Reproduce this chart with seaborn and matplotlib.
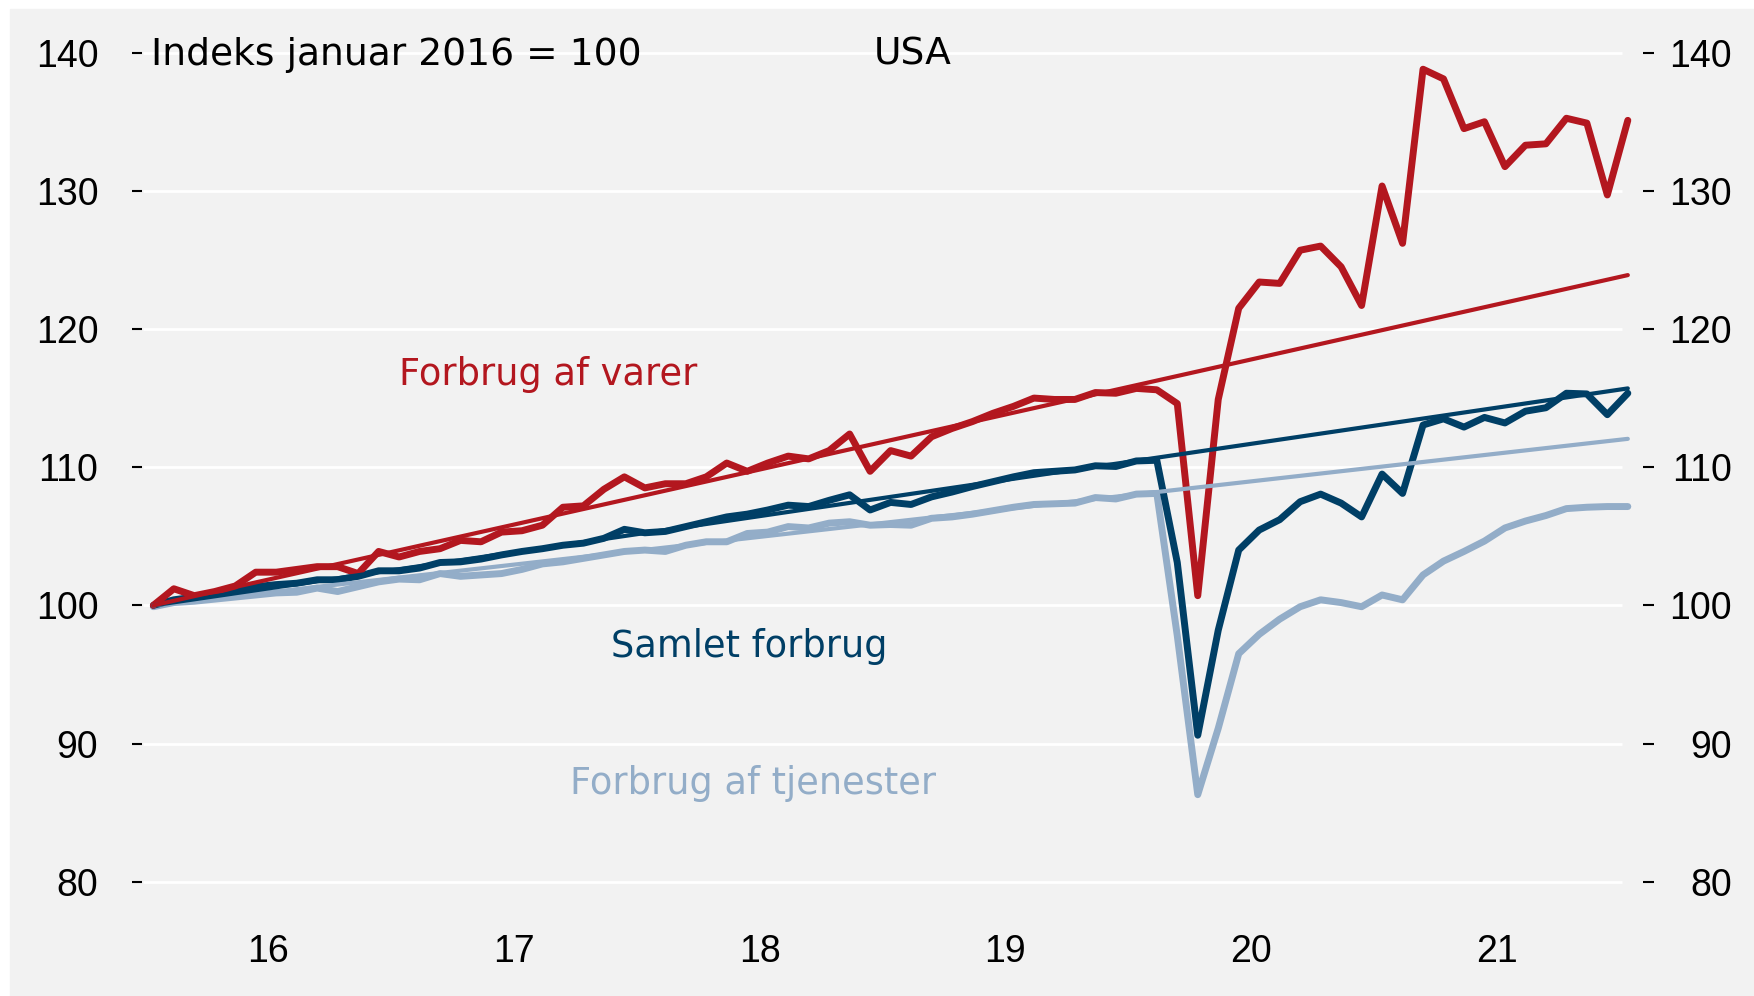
import numpy as np
import pandas as pd
import matplotlib
matplotlib.use("Agg")
import matplotlib.pyplot as plt
import seaborn as sns
from matplotlib.patches import Rectangle

# ---------------------------------------------
# DATA (index Jan 2016 = 100, monthly, USA)
# ---------------------------------------------
dates = pd.date_range("2016-01-01", periods=73, freq="MS")

goods = [
    100.0, 101.2, 100.7, 101.0, 101.4, 102.4, 102.4, 102.6, 102.8, 102.8, 102.3, 103.9,
    103.5, 103.9, 104.1, 104.7, 104.6, 105.3, 105.4, 105.8, 107.1, 107.2, 108.4, 109.3,
    108.5, 108.8, 108.8, 109.3, 110.3, 109.7, 110.3, 110.8, 110.6, 111.2, 112.4, 109.7,
    111.2, 110.8, 112.2, 112.8, 113.3, 113.9, 114.4, 115.0, 114.9, 114.9, 115.4, 115.35,
    115.7, 115.6, 114.6, 100.7, 114.9, 121.5, 123.4, 123.3, 125.7, 126.0, 124.5, 121.7,
    130.35, 126.2, 138.8, 138.1, 134.5, 135.0, 131.75, 133.3, 133.4, 135.25, 134.9, 129.7,
    135.1,
]

total = [
    100.0, 100.4, 100.6, 100.8, 101.0, 101.35, 101.5, 101.6, 101.85, 101.85, 102.1, 102.5,
    102.5, 102.7, 103.1, 103.15, 103.35, 103.65, 103.9, 104.1, 104.35, 104.5, 104.85, 105.5,
    105.25, 105.35, 105.7, 106.05, 106.4, 106.6, 106.9, 107.25, 107.15, 107.6, 108.0, 106.9,
    107.45, 107.3, 107.85, 108.2, 108.6, 108.95, 109.3, 109.6, 109.7, 109.8, 110.1, 110.05,
    110.45, 110.5, 103.1, 90.6, 98.2, 104.0, 105.45, 106.2, 107.5, 108.05, 107.4, 106.4,
    109.5, 108.1, 113.05, 113.5, 112.9, 113.6, 113.2, 114.05, 114.3, 115.35, 115.3, 113.8,
    115.35,
]

services = [
    99.9, 100.2, 100.3, 100.45, 100.6, 100.75, 100.9, 100.95, 101.25, 101.0, 101.35, 101.7,
    101.9, 101.85, 102.3, 102.1, 102.2, 102.3, 102.6, 103.0, 103.15, 103.4, 103.65, 103.9,
    104.0, 103.9, 104.35, 104.6, 104.6, 105.2, 105.3, 105.7, 105.6, 105.95, 106.05, 105.8,
    105.85, 105.8, 106.3, 106.4, 106.6, 106.85, 107.1, 107.3, 107.35, 107.4, 107.8, 107.7,
    108.05, 108.1, 97.8, 86.3, 91.1, 96.5, 97.9, 99.0, 99.9, 100.4, 100.2, 99.9,
    100.75, 100.4, 102.2, 103.2, 103.9, 104.65, 105.6, 106.1, 106.5, 107.0, 107.1, 107.15,
    107.15,
]

# pre-pandemic trend lines: value at first and last month
trend_names = ["Tjenester", "Samlet", "Varer"]
trend_start = [100.0, 100.0, 100.0]
trend_stop = [112.05, 115.7, 123.9]

year_labels = ["16", "17", "18", "19", "20", "21"]
yticks = [80, 90, 100, 110, 120, 130, 140]

# ---------------------------------------------
# STYLE
# ---------------------------------------------
BG = "#f2f2f2"
RED = "#b3171f"
DARK = "#003f66"
LIGHT = "#93adc8"
palette = {"Varer": RED, "Samlet": DARK, "Tjenester": LIGHT}

sns.set_style("white")
plt.rcParams["font.family"] = ["Liberation Sans", "DejaVu Sans"]
plt.rcParams["text.color"] = "black"
plt.rcParams["xtick.color"] = "black"
plt.rcParams["ytick.color"] = "black"
plt.rcParams["xtick.labelcolor"] = "black"
plt.rcParams["ytick.labelcolor"] = "black"
ANNOT_FONT = ["DejaVu Sans"]

month_pos = (dates.year - 2016) * 12 + dates.month - 1
df = pd.DataFrame({"pos": month_pos, "Varer": goods, "Samlet": total, "Tjenester": services})
long_df = df.melt(id_vars="pos", var_name="serie", value_name="indeks")

fig = plt.figure(figsize=(17.54, 9.96), dpi=100, facecolor="white")
fig.patches.append(Rectangle((10 / 1754, 0), 1, 1 - 9 / 996, transform=fig.transFigure,
                             color=BG, zorder=-1))
ax = fig.add_axes([0.081, 0.0884, 0.8557, 0.8865])
ax.set_facecolor(BG)

# white horizontal grid
ax.hlines(yticks, -0.5, 71.7, color="white", linewidth=2, zorder=0.5)

# ---------------------------------------------
# LINES
# ---------------------------------------------
sns.lineplot(data=long_df, x="pos", y="indeks", hue="serie",
             hue_order=["Tjenester", "Samlet", "Varer"], palette=palette,
             linewidth=5.0, legend=False, ax=ax)

for name, start, stop in zip(trend_names, trend_start, trend_stop):
    sns.lineplot(x=[month_pos[0], month_pos[-1]], y=[start, stop],
                 color=palette[name], linewidth=3.0, ax=ax)

ax.set_xlim(-0.55, 72.74)
ax.set_ylim(78.1, 142)
ax.set_xlabel("")
ax.set_ylabel("")
for s in ax.spines.values():
    s.set_visible(False)

# x axis: tick marks at year boundaries, labels in the middle of each year
bounds = [12 * k - 0.4 for k in range(len(year_labels) + 1)]
mids = [12 * k + 5.6 for k in range(len(year_labels))]
ax.set_xticks(bounds)
ax.set_xticklabels([])
ax.set_xticks(mids, minor=True)
ax.set_xticklabels(year_labels, minor=True)
ax.tick_params(axis="x", which="major", direction="out", length=10.5, width=1.5, color="black")
ax.tick_params(axis="x", which="minor", length=0, pad=19, labelsize=27)

# left y axis
ax.set_yticks(yticks)
ax.set_yticklabels([str(v) for v in yticks])
ax.tick_params(axis="y", direction="out", length=7.5, width=1.5, pad=24,
               labelsize=27, color="black", left=True)

# right y axis (labels right-aligned)
ax2 = ax.twinx()
ax2.set_ylim(ax.get_ylim())
ax2.set_yticks(yticks)
ax2.set_yticklabels([str(v) for v in yticks])
ax2.tick_params(axis="y", direction="out", length=8, width=1.5, pad=56,
                labelsize=27, color="black", right=True)
for lab in ax2.get_yticklabels():
    lab.set_ha("right")
for s in ax2.spines.values():
    s.set_visible(False)

# ---------------------------------------------
# TEXT
# ---------------------------------------------
ax.text(-0.1, 139.85, "Indeks januar 2016 = 100", fontsize=27.1, family=ANNOT_FONT,
        ha="left", va="center")
ax.text(37.1, 139.85, "USA", fontsize=27.1, family=ANNOT_FONT, ha="center", va="center")
ax.text(19.3, 116.7, "Forbrug af varer", fontsize=26.5, family=ANNOT_FONT, color=RED,
        ha="center", va="center")
ax.text(29.1, 97.0, "Samlet forbrug", fontsize=26.5, family=ANNOT_FONT, color=DARK,
        ha="center", va="center")
ax.text(29.3, 87.1, "Forbrug af tjenester", fontsize=26.5, family=ANNOT_FONT, color=LIGHT,
        ha="center", va="center")

fig.savefig("out.png", dpi=100, facecolor=fig.get_facecolor())
